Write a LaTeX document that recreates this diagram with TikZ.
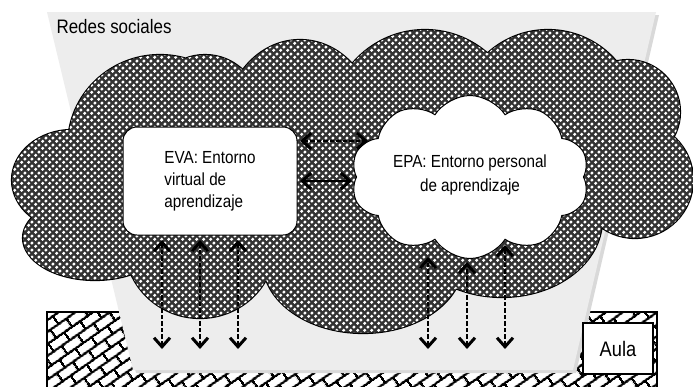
\documentclass[tikz,border=0pt]{standalone}
\usepackage{fontspec}
\setmainfont{Liberation Sans}[FakeStretch=0.87]
\usetikzlibrary{arrows.meta,shapes.symbols,patterns.meta}

\pgfdeclarepattern{
  name=rbricks, type=uncolored,
  bottom left={\pgfpoint{0pt}{0pt}},
  top right={\pgfpoint{20pt}{20pt}},
  tile size={\pgfpoint{20pt}{20pt}},
  tile transformation={\pgftransformrotate{35}},
  code={
    \pgfsetlinewidth{2.4pt}
    \pgfpathmoveto{\pgfpoint{0pt}{5pt}}\pgfpathlineto{\pgfpoint{20pt}{5pt}}
    \pgfpathmoveto{\pgfpoint{0pt}{15pt}}\pgfpathlineto{\pgfpoint{20pt}{15pt}}
    \pgfpathmoveto{\pgfpoint{5pt}{5pt}}\pgfpathlineto{\pgfpoint{5pt}{15pt}}
    \pgfpathmoveto{\pgfpoint{15pt}{15pt}}\pgfpathlineto{\pgfpoint{15pt}{20pt}}
    \pgfpathmoveto{\pgfpoint{15pt}{0pt}}\pgfpathlineto{\pgfpoint{15pt}{5pt}}
    \pgfusepath{stroke}
  }
}
\pgfdeclarepattern{
  name=wdots, type=uncolored,
  bottom left={\pgfpoint{0pt}{0pt}},
  top right={\pgfpoint{6.8pt}{6.8pt}},
  tile size={\pgfpoint{6.8pt}{6.8pt}},
  code={
    \pgfpathcircle{\pgfpoint{1.7pt}{1.7pt}}{1.75pt}
    \pgfpathcircle{\pgfpoint{5.1pt}{5.1pt}}{1.75pt}
    \pgfusepath{fill}
  }
}

\def\cloudlist{160/145/92/90, 205/110/55/55, 300/125/75/85, 425/125/95/95,
  548/120/90/90, 628/112/52/52, 635/180/58/58, 72/180/60/50, 95/238/72/42,
  200/245/75/73, 363/262/100/71, 502/220/100/77, 230/190/60/60, 380/200/60/60}

\tikzset{
  txt/.style={font=\fontsize{17.5}{22}\selectfont},
  evabox/.style={draw, fill=white, line width=1pt, rounded corners=14pt,
    minimum width=174pt, minimum height=108pt, align=left, txt},
  epacloud/.style={draw, fill=white, line width=1pt, shape=cloud, cloud puffs=10,
    cloud puff arc=115, cloud ignores aspect, minimum width=238pt, minimum height=163pt, inner sep=0pt},
  tipb/.tip={Straight Barb[length=9pt,width=16pt,line width=3pt]},
  darrow/.style={tipb-tipb, line width=1.5pt, dash pattern=on 4.5pt off 2pt},
  sarrow/.style={tipb-tipb, line width=1.5pt},
}

\begin{document}
\begin{tikzpicture}[x=1pt,y=-1pt]
\useasboundingbox (0,0) rectangle (693,386);
\clip (0,0) rectangle (693,386);
\fill[white] (0,0) rectangle (693,386);

% classroom (bricks)
\filldraw[pattern=rbricks, pattern color=black, draw=black, line width=2.4pt]
  (47,312) rectangle (657,400);

% funnel "Redes sociales"
\fill[gray!30] (50,15) -- (659,15) -- (576,373) -- (136,373) -- cycle;
\fill[gray!14] (47,12) -- (656,12) -- (573,370) -- (133,370) -- cycle;
\node[anchor=base west, font=\fontsize{19.5}{22}\selectfont] (redes) at (53,33) {Redes sociales};

% Aula
\node[draw, fill=white, line width=1.4pt, minimum width=70pt, minimum height=51pt,
  inner sep=0pt, font=\fontsize{21}{24}\selectfont] (aula) at (618,348.5) {Aula};

% big cloud
\draw[line width=2.2pt] foreach \x/\y/\a/\b in \cloudlist {(\x,\y) ellipse[x radius=\a, y radius=\b]};
\fill[black!80] foreach \x/\y/\a/\b in \cloudlist {(\x,\y) ellipse[x radius=\a, y radius=\b]};
\fill[pattern=wdots, pattern color=white] foreach \x/\y/\a/\b in \cloudlist {(\x,\y) ellipse[x radius=\a, y radius=\b]};

% EVA and EPA
\node[evabox] (eva) at (210,181) {EVA: Entorno\\virtual de\\aprendizaje};
\node[epacloud] (epa) at (470,177) {};
\node[txt, align=center, font=\fontsize{17.5}{24}\selectfont] (epatext) at (470,175) {EPA: Entorno personal\\de aprendizaje};

% horizontal arrows
\coordinate (h1a) at (300,141); \coordinate (h1b) at (368,141);
\coordinate (h2a) at (300,181); \coordinate (h2b) at (352,181);
\draw[darrow] (h1a) -- (h1b);
\draw[sarrow] (h2a) -- (h2b);

% vertical arrows
\foreach \n/\x/\t in {l1/162/240, l2/200/240, l3/238/240, r1/428/257, r2/467/262, r3/505/245}{
  \coordinate (\n t) at (\x,\t);
  \coordinate (\n b) at (\x,349);
  \draw[darrow] (\n b) -- (\n t);
}
\end{tikzpicture}
\end{document}
